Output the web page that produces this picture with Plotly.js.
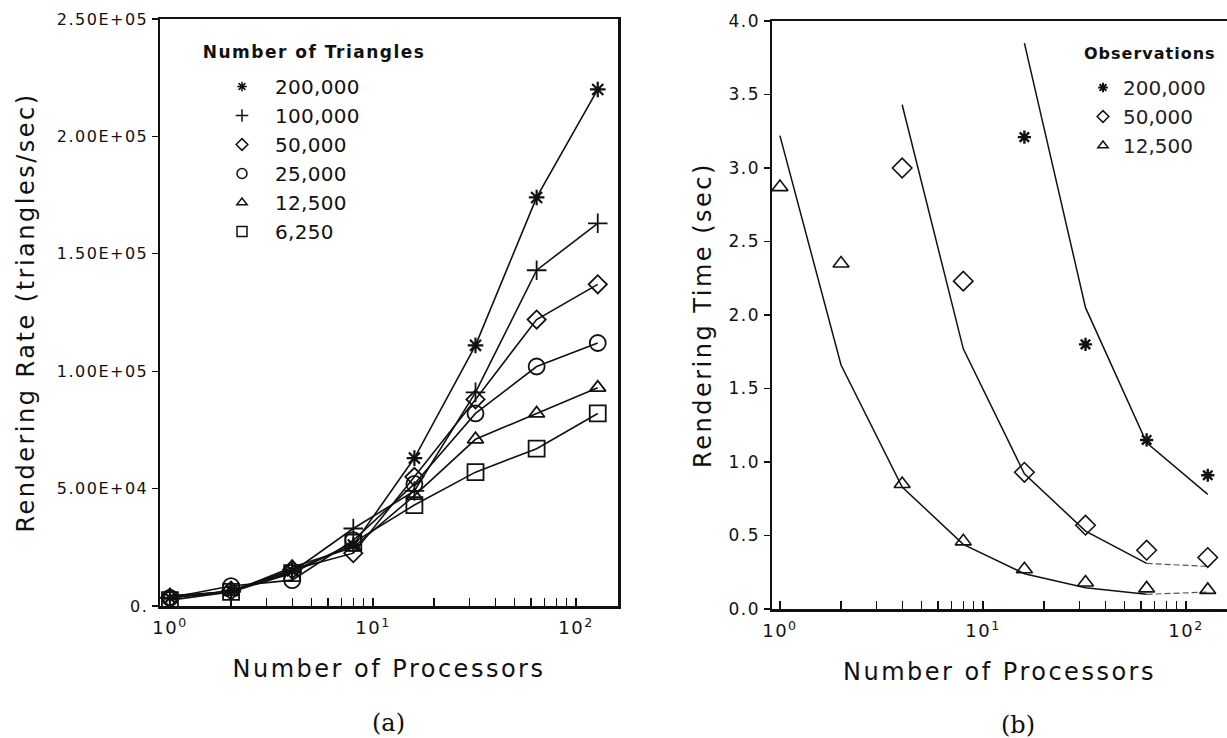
<!DOCTYPE html>
<html>
<head>
<meta charset="utf-8">
<script src="https://cdn.plot.ly/plotly-3.0.1.min.js"></script>
<style>
  html, body { margin: 0; padding: 0; background: #fff; }
  #chart .xtitle, #chart .x2title, #chart .ytitle, #chart .y2title { letter-spacing: 2.5px; }
  #chart .xtick text, #chart .x2tick text, #chart .ytick text, #chart .y2tick text { letter-spacing: 1.5px; }
  #chart .legendtext { letter-spacing: 0.3px; }
  #chart .annotation[data-index="2"] text { letter-spacing: 1.5px; }
  #chart .annotation[data-index="3"] text { letter-spacing: 1px; }
</style>
</head>
<body>
<div id="chart" style="width:1227px;height:738px;"></div>
<script>
// ---------- Panel (a): rendering rate (triangles/sec) ----------
const procs = [1, 2, 4, 8, 16, 32, 64, 128];
const rate200k = [3500, 6500, 15000, 26000, 63000, 111000, 174000, 220000];
const rate100k = [3500, 6000, 14500, 33000, 49000, 91000, 143000, 163000];
const rate50k  = [3500, 6500, 15500, 22500, 55000, 88000, 122000, 137000];
const rate25k  = [3500, 8500, 11000, 28000, 52000, 82000, 102000, 112000];
const rate12k  = [4500, 6000, 16500, 25000, 47000, 71000, 82000, 93000];
const rate6k   = [2500, 6000, 14000, 27000, 43000, 57000, 67000, 82000];
const seriesNamesA = ['200,000', '100,000', '50,000', '25,000', '12,500', '6,250'];

// ---------- Panel (b): rendering time (sec) ----------
const procs12 = [1, 2, 4, 8, 16, 32, 64, 128];
const obs12   = [2.87, 2.35, 0.85, 0.46, 0.27, 0.18, 0.14, 0.13];
const model12 = [3.22, 1.66, 0.83, 0.44, 0.24, 0.145, 0.10, 0.115];
const procs50 = [4, 8, 16, 32, 64, 128];
const obs50   = [3.00, 2.23, 0.93, 0.57, 0.40, 0.35];
const model50 = [3.43, 1.77, 0.92, 0.53, 0.31, 0.29];
const procs200 = [16, 32, 64, 128];
const obs200   = [3.21, 1.80, 1.15, 0.91];
const model200 = [3.85, 2.05, 1.13, 0.78];
const seriesNamesB = ['200,000', '50,000', '12,500'];

// ---------- tick labels ----------
const xTickVals = [1, 10, 100];
const xTickText = ['10<sup>0</sup>', '10<sup>1</sup>', '10<sup>2</sup>'];
const xMinorVals = [2, 3, 4, 5, 6, 7, 8, 9, 20, 30, 40, 50, 60, 70, 80, 90];
const yTickValsA = [0, 50000, 100000, 150000, 200000, 250000];
const yTickTextA = ['0.', '5.00E+04', '1.00E+05', '1.50E+05', '2.00E+05', '2.50E+05'];
const yTickValsB = [0, 0.5, 1, 1.5, 2, 2.5, 3, 3.5, 4];

const FONT = 'DejaVu Sans, Verdana, sans-serif';
const INK = '#111';

const symA = [
  {symbol: 'asterisk-open', size: 13, lw: 2.2},
  {symbol: 'cross-thin-open', size: 14, lw: 1.8},
  {symbol: 'diamond-open', size: 14, lw: 1.8},
  {symbol: 'circle-open', size: 16, lw: 1.8},
  {symbol: 'triangle-up-open', size: 14, lw: 1.8},
  {symbol: 'square-open', size: 16, lw: 1.8}
];
const dataA = [rate200k, rate100k, rate50k, rate25k, rate12k, rate6k];

const traces = [];
dataA.forEach((ys, i) => {
  traces.push({
    type: 'scatter', mode: 'lines+markers', x: procs, y: ys,
    xaxis: 'x', yaxis: 'y', showlegend: false, name: seriesNamesA[i],
    line: {color: INK, width: 1.6},
    marker: {symbol: symA[i].symbol, size: symA[i].size, color: INK,
             line: {color: INK, width: symA[i].lw}}
  });
});
// legend entries for panel (a): markers only (no data of their own)
dataA.forEach((ys, i) => {
  traces.push({
    type: 'scatter', mode: 'markers', x: [null], y: [null],
    xaxis: 'x', yaxis: 'y', legend: 'legend', showlegend: true, name: seriesNamesA[i],
    marker: {symbol: symA[i].symbol, size: Math.round(symA[i].size * 0.65), color: INK,
             line: {color: INK, width: 1.5}}
  });
});

// panel (b) model lines (solid part, then faint dashed tail)
function addModel(xs, ys, tailDashed) {
  const n = xs.length;
  const solidEnd = tailDashed ? n - 1 : n;
  traces.push({type: 'scatter', mode: 'lines', x: xs.slice(0, solidEnd), y: ys.slice(0, solidEnd),
    xaxis: 'x2', yaxis: 'y2', showlegend: false, line: {color: INK, width: 1.5}});
  if (tailDashed) {
    traces.push({type: 'scatter', mode: 'lines', x: xs.slice(n - 2), y: ys.slice(n - 2),
      xaxis: 'x2', yaxis: 'y2', showlegend: false, line: {color: '#555', width: 1.2, dash: '6px,3px'}});
  }
}
addModel(procs12, model12, true);
addModel(procs50, model50, true);
addModel(procs200, model200, false);

const symB = [
  {symbol: 'asterisk-open', size: 11, lw: 2.4},
  {symbol: 'diamond-open', size: 15, lw: 1.6},
  {symbol: 'triangle-up-open', size: 14, lw: 1.6}
];
const obsX = [procs200, procs50, procs12];
const obsY = [obs200, obs50, obs12];
obsY.forEach((ys, i) => {
  traces.push({
    type: 'scatter', mode: 'markers', x: obsX[i], y: ys,
    xaxis: 'x2', yaxis: 'y2', showlegend: false, name: seriesNamesB[i],
    marker: {symbol: symB[i].symbol, size: symB[i].size, color: INK,
             line: {color: INK, width: symB[i].lw}}
  });
});
obsY.forEach((ys, i) => {
  traces.push({
    type: 'scatter', mode: 'markers', x: [null], y: [null],
    xaxis: 'x2', yaxis: 'y2', legend: 'legend2', showlegend: true, name: seriesNamesB[i],
    marker: {symbol: symB[i].symbol, size: i === 0 ? 8 : 9, color: INK,
             line: {color: INK, width: i === 0 ? 2 : 1.5}}
  });
});

const W = 1227, H = 738;
const px = v => v / W;
const py = v => 1 - v / H;

const xCommon = {
  type: 'log', showgrid: false, zeroline: false,
  showline: true, linecolor: INK, linewidth: 2.5, mirror: true,
  ticks: 'inside', ticklen: 8, tickwidth: 1.2, tickcolor: INK,
  tickmode: 'array', tickvals: xTickVals, ticktext: xTickText,
  tickfont: {family: FONT, size: 18, color: INK},
  ticklabelstandoff: 4,
  minor: {tickmode: 'array', tickvals: xMinorVals, ticks: 'inside', ticklen: 8, tickwidth: 1.2, tickcolor: INK, showgrid: false},
  fixedrange: true
};

const layout = {
  width: W, height: H,
  margin: {l: 0, r: 0, t: 0, b: 0},
  showlegend: true,
  paper_bgcolor: '#fff', plot_bgcolor: '#fff',
  font: {family: FONT, color: INK},
  xaxis: Object.assign({}, xCommon, {
    domain: [px(160), px(618)],
    range: [-0.049, 2.207],
    anchor: 'y',
    title: {text: 'Number of Processors', font: {family: FONT, size: 24, color: INK}, standoff: 23}
  }),
  yaxis: {
    domain: [1 - 606 / H, 1 - 19 / H],
    range: [0, 250000], anchor: 'x',
    showgrid: false, zeroline: false,
    showline: true, linecolor: INK, linewidth: 2.5, mirror: true,
    ticks: 'outside', ticklen: 6, tickwidth: 1.2, tickcolor: INK,
    tickmode: 'array', tickvals: yTickValsA, ticktext: yTickTextA,
    tickfont: {family: FONT, size: 16, color: INK},
    title: {text: 'Rendering Rate (triangles/sec)', font: {family: FONT, size: 24, color: INK}, standoff: 28},
    fixedrange: true
  },
  xaxis2: Object.assign({}, xCommon, {
    domain: [px(772), 1],
    range: [-0.039, 2.202],
    anchor: 'y2',
    title: {text: 'Number of Processors', font: {family: FONT, size: 24, color: INK}, standoff: 23}
  }),
  yaxis2: {
    domain: [1 - 609 / H, 1 - 21 / H],
    range: [0, 4], anchor: 'x2',
    showgrid: false, zeroline: false,
    showline: true, linecolor: INK, linewidth: 2.5, mirror: false,
    ticks: 'outside', ticklen: 6, tickwidth: 1.2, tickcolor: INK,
    tickmode: 'array', tickvals: yTickValsB, tickformat: '.1f',
    tickfont: {family: FONT, size: 17, color: INK},
    title: {text: 'Rendering Time (sec)', font: {family: FONT, size: 24, color: INK}, standoff: 15},
    fixedrange: true
  },
  legend: {
    x: px(209), y: py(67), xanchor: 'left', yanchor: 'top',
    bgcolor: 'rgba(0,0,0,0)', borderwidth: 0, itemwidth: 56,
    font: {family: FONT, size: 20, color: INK},
    itemclick: false, itemdoubleclick: false
  },
  legend2: {
    x: px(1083), y: py(68), xanchor: 'left', yanchor: 'top',
    bgcolor: 'rgba(0,0,0,0)', borderwidth: 0,
    font: {family: FONT, size: 20, color: '#222'},
    itemclick: false, itemdoubleclick: false
  },
  annotations: [
    {text: '(a)', xref: 'paper', yref: 'paper', x: px(388), y: py(723), xanchor: 'center', yanchor: 'middle',
     showarrow: false, font: {family: 'DejaVu Serif, Liberation Serif, serif', size: 24, color: INK}},
    {text: '(b)', xref: 'paper', yref: 'paper', x: px(1018), y: py(725), xanchor: 'center', yanchor: 'middle',
     showarrow: false, font: {family: 'DejaVu Serif, Liberation Serif, serif', size: 24, color: INK}},
    // legend titles
    {text: '<b>Number of Triangles</b>', xref: 'paper', yref: 'paper', x: px(313.5), y: py(52), xanchor: 'center', yanchor: 'middle',
     showarrow: false, font: {family: FONT, size: 17, color: INK}},
    {text: '<b>Observations</b>', xref: 'paper', yref: 'paper', x: px(1149.5), y: py(53), xanchor: 'center', yanchor: 'middle',
     showarrow: false, font: {family: FONT, size: 16, color: INK}}
  ]
};

Plotly.newPlot('chart', traces, layout, {staticPlot: true, displayModeBar: false});
</script>
</body>
</html>
